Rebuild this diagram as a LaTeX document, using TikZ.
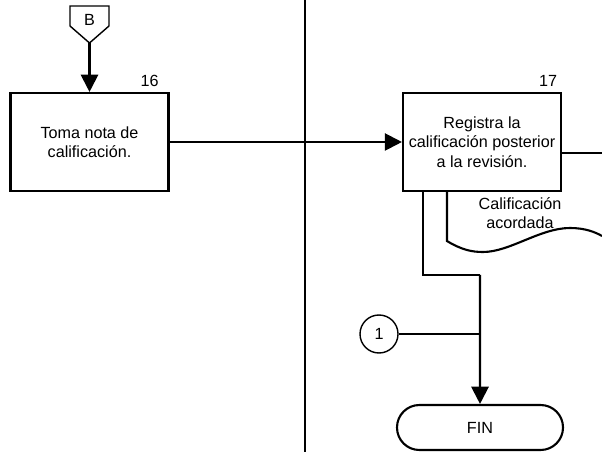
\documentclass[tikz,border=0pt]{standalone}
\usepackage{fontspec}
\setmainfont{Liberation Sans}
\usetikzlibrary{arrows.meta}

\begin{document}
\begin{tikzpicture}[font=\fontsize{11.5}{13.8}\selectfont]
\tikzstyle{task} = [rectangle, minimum width=3.95cm, minimum height=2.45cm, text centered, align=center, draw=black, line width=1.5pt]
\tikzstyle{terminal} = [rectangle, rounded corners=0.56cm, minimum width=4.15cm, minimum height=1.125cm, draw=black, line width=1.5pt]
\tikzstyle{connector} = [circle, minimum size=0.95cm, inner sep=0pt, draw=black, line width=1pt]
\tikzstyle{empty}=[]
\tikzstyle{arrow} = [line width=1.5pt, -{Triangle[length=0.43cm, width=0.43cm]}]
\tikzstyle{line} = [line width=1.5pt]
\tikzstyle{thin} = [line width=1pt]

\useasboundingbox (0,0) rectangle (15.05,-11.3);

%nodes
\node (toma) [task] at (2.2375,-3.55) {Toma nota de\\calificación.};
\node (registra) [task, right of=toma, xshift=8.8125cm] {Registra la\\calificación posterior\\a la revisión.};
\node (offB) [empty, above of=toma, yshift=2.05cm] {B};
\node (fin) [terminal, below of=registra, xshift=-0.05cm, yshift=-6.1375cm] {FIN};
\node (uno) [connector] at (9.475,-8.35) {1};
\node (n16) [empty, anchor=south east, xshift=-0.15cm] at (toma.north east) {16};
\node (n17) [empty, anchor=south east] at (registra.north east) {17};
\node (acordada) [empty, align=center] at (13.0,-5.325) {Calificación\\acordada};
\coordinate (tipB) at ([yshift=-0.575cm]offB.center);
\coordinate (merge) at (12.0,-6.875);
\coordinate (toright) at (15.05,-3.825);
\coordinate (laneTop) at (7.625,0);
\coordinate (laneBot) at (7.625,-11.3);

%off-page connector and document
\draw [thin] ([shift={(-0.4875,0.35)}]offB.center) -- ++(0.975,0) -- ++(0,-0.5) -- (tipB) -- ([shift={(-0.4875,-0.15)}]offB.center) -- cycle;
\draw [line] ([xshift=-0.875cm]registra.south) -- ++(0,-1.225) .. controls (11.55,-6.25) and (11.8,-6.3) .. (12.075,-6.3) .. controls (12.75,-6.3) and (13.5,-5.7) .. (14.25,-5.7) .. controls (14.625,-5.7) and (14.875,-5.8) .. (15.05,-5.9);

%lane
\draw [line] (laneTop) -- (laneBot);

%arrows
\draw [arrow] (tipB) -- (toma);
\draw [arrow] (toma) -- (registra);
\draw [line] ([yshift=-0.275cm]registra.east) -- (toright);
\draw [line] ([xshift=-1.475cm]registra.south) |- (merge);
\draw [line] (uno) -- (uno -| merge);
\draw [arrow] (merge) -- (fin);
\end{tikzpicture}
\end{document}
